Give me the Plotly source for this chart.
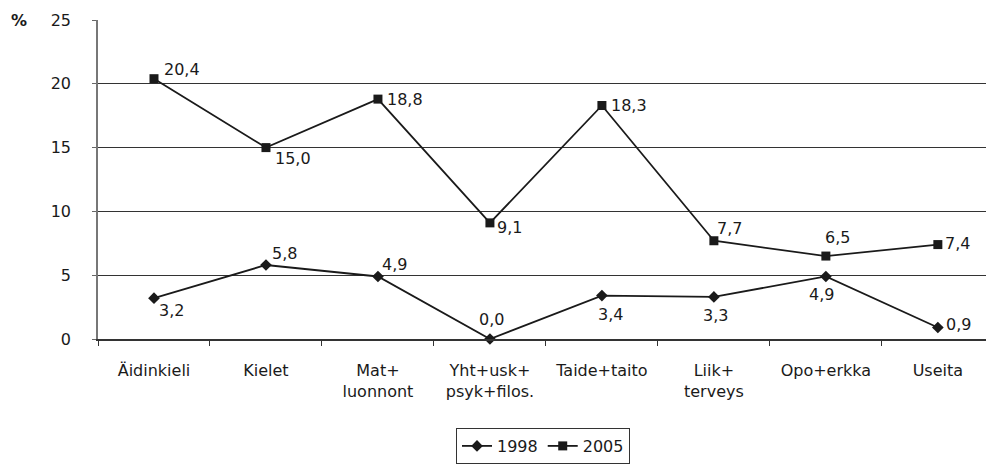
import plotly.graph_objects as go

categories = ["Äidinkieli", "Kielet", "Mat+<br>luonnont", "Yht+usk+<br>psyk+filos.",
              "Taide+taito", "Liik+<br>terveys", "Opo+erkka", "Useita"]
values_1998 = [3.2, 5.8, 4.9, 0.0, 3.4, 3.3, 4.9, 0.9]
values_2005 = [20.4, 15.0, 18.8, 9.1, 18.3, 7.7, 6.5, 7.4]
y_ticks = [0, 5, 10, 15, 20, 25]

# value-label offsets in pixels (left edge of text, vertical centre) from each marker
label_dx_1998 = [3, 4, 2, -13, -6, -13, -19, 6]
label_dy_1998 = [12, -11, -12, -20, 19, 19, 18, -3]
label_dx_2005 = [8, 7, 7, 5, 7, 1, -3, 5]
label_dy_2005 = [-9, 11, 0, 5, 0, -12, -19, -1]

FONT = "DejaVu Sans, Liberation Sans, Arial, sans-serif"
INK = "#1a1a1a"


def fmt(v):
    return f"{v:.1f}".replace(".", ",")


fig = go.Figure()
fig.add_trace(go.Scatter(
    x=categories, y=values_1998, name="1998", mode="lines+markers",
    line=dict(color=INK, width=1.8),
    marker=dict(symbol="diamond", size=9, color=INK), cliponaxis=False,
))
fig.add_trace(go.Scatter(
    x=categories, y=values_2005, name="2005", mode="lines+markers",
    line=dict(color=INK, width=1.8),
    marker=dict(symbol="square", size=9, color=INK), cliponaxis=False,
))

annotations = []
for vals, dxs, dys in ((values_1998, label_dx_1998, label_dy_1998),
                       (values_2005, label_dx_2005, label_dy_2005)):
    for cat, v, dx, dy in zip(categories, vals, dxs, dys):
        annotations.append(dict(
            x=cat, y=v, xref="x", yref="y", text=fmt(v), showarrow=False,
            xanchor="left", yanchor="middle", xshift=dx, yshift=-dy,
            font=dict(family=FONT, size=16, color=INK),
        ))
annotations.append(dict(
    text="<b>%</b>", xref="paper", yref="paper", x=-0.1, y=1.0,
    xanchor="left", yanchor="middle", showarrow=False,
    font=dict(family=FONT, size=16, color=INK),
))

fig.update_layout(
    width=986, height=465,
    margin=dict(l=98, r=0, t=20, b=126),
    paper_bgcolor="white", plot_bgcolor="white",
    font=dict(family=FONT, size=16, color=INK),
    showlegend=True,
    legend=dict(
        orientation="h", xref="container", yref="container",
        x=543 / 986, xanchor="center", y=1 - 428 / 465, yanchor="top",
        bordercolor="#333333", borderwidth=1, bgcolor="white",
        font=dict(family=FONT, size=16, color=INK),
        itemwidth=30, tracegroupgap=0,
    ),
    annotations=annotations,
)

fig.update_xaxes(
    type="category", range=[-0.5, 7.43], tickson="boundaries",
    ticks="outside", ticklen=5, tickcolor="#333333", tickwidth=1,
    showline=True, linecolor="#333333", linewidth=1.5,
    showgrid=False, ticklabelstandoff=16, zeroline=False,
    tickfont=dict(family=FONT, size=16, color=INK),
)
fig.update_yaxes(
    range=[0, 25], tickvals=y_ticks, ticktext=[str(v) for v in y_ticks],
    ticks="outside", ticklen=4, tickcolor="#666666",
    showline=True, linecolor="#777777", linewidth=1.5,
    showgrid=True, gridcolor="#333333", gridwidth=1,
    zeroline=False, ticklabelstandoff=18,
    tickfont=dict(family=FONT, size=16, color=INK),
)

fig.write_html("out.html")
